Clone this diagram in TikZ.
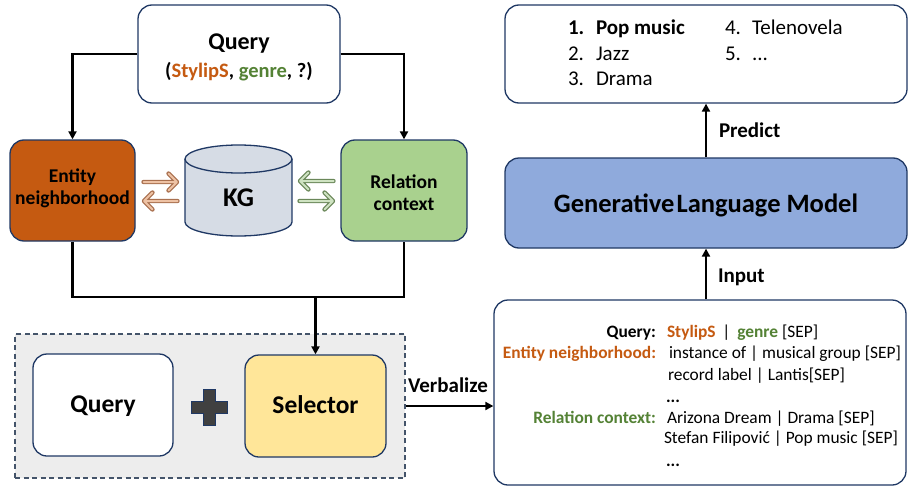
\documentclass[tikz,border=0pt]{standalone}
\usepackage{fontspec}
\setmainfont{Carlito}
\usetikzlibrary{arrows.meta}
\definecolor{navy}{HTML}{1F3864}
\definecolor{orfill}{HTML}{C55A11}
\definecolor{grfill}{HTML}{A9D18E}
\definecolor{kgfill}{HTML}{D6DCE5}
\definecolor{dboxfill}{HTML}{EDEDED}
\definecolor{dboxline}{HTML}{44546A}
\definecolor{yelfill}{HTML}{FFE699}
\definecolor{glmfill}{HTML}{8FAADC}
\definecolor{ortxt}{HTML}{C55A11}
\definecolor{grtxt}{HTML}{548235}
\definecolor{orarrline}{HTML}{A9704F}
\definecolor{orarrfill}{HTML}{EEC2A4}
\definecolor{grarrline}{HTML}{6A8759}
\definecolor{grarrfill}{HTML}{CFE3C2}
\definecolor{plusfill}{HTML}{404040}
\newcommand{\fs}[1]{\fontsize{#1}{#1}\selectfont}
\begin{document}
\begin{tikzpicture}[x=1pt,y=-1pt,
  box/.style={draw=navy, line width=1.3pt, rounded corners=14pt, inner sep=0pt},
  arr/.style={line width=2.2pt, -{Triangle[length=8pt,width=8pt]}},
  conn/.style={line width=2.2pt},
  txt/.style={inner sep=0pt, outer sep=0pt},
  pics/harrow/.style 2 args={code={
    \draw[line width=4.4pt, #1, line cap=round, line join=round] (-17,0) -- (16,0) (8,-8.5) -- (16.5,0) -- (8,8.5);
    \draw[line width=2.0pt, #2, line cap=round, line join=round] (-17,0) -- (16,0) (8,-8.5) -- (16.5,0) -- (8,8.5);
  }},
]
\useasboundingbox (0,0) rectangle (909,487);

% ---------- left part ----------
\node[box, fill=white, minimum width=202pt, minimum height=98pt] (qtop) at (239,54) {};
\node[txt, anchor=base] (qtopA) at (239,49) {\fs{24}\bfseries Query};
\node[txt, anchor=base] (qtopB) at (239,77) {\fs{20.5}\bfseries (\textcolor{ortxt}{StylipS}, \textcolor{grtxt}{genre}, ?)};

\node[box, fill=orfill, minimum width=125pt, minimum height=101pt] (ent) at (72.5,190.5) {};
\node[txt, align=center, font=\fs{19.5}\bfseries] (entT) at (72.5,188) {Entity\\[2.5pt]neighborhood};

\node[box, fill=grfill, minimum width=126pt, minimum height=101pt] (rel) at (404,190.5) {};
\node[txt, align=center, font=\fs{19.5}\bfseries] (relT) at (404,193) {Relation\\[2.5pt]context};

% KG cylinder
\fill[kgfill] (238.5,222) ellipse [x radius=53.5, y radius=14];
\fill[kgfill] (185,159) rectangle (292,222);
\draw[navy, line width=1.3pt] (185,159) -- (185,222) arc[start angle=180, end angle=0, x radius=53.5, y radius=14] -- (292,159);
\filldraw[fill=kgfill, draw=navy, line width=1.3pt] (238.5,159) ellipse [x radius=53.5, y radius=14];
\node[txt, font=\fs{27}\bfseries] (kg) at (238.5,198) {KG};

% hollow double arrows
\pic at (160.5,182) {harrow={orarrline}{orarrfill}};
\pic[rotate=180] at (160.5,201) {harrow={orarrline}{orarrfill}};
\pic[rotate=180] at (316.5,181) {harrow={grarrline}{grarrfill}};
\pic at (316.5,201) {harrow={grarrline}{grarrfill}};

% connectors from query
\draw[arr] (qtop.west) -| (ent.north);
\draw[arr] (qtop.east) -| (rel.north);

% dashed box
\node[draw=dboxline, fill=dboxfill, dash pattern=on 5pt off 3.5pt, line width=1.3pt, minimum width=390pt, minimum height=144pt, inner sep=0pt] (dbox) at (210,406) {};
\node[box, fill=white, minimum width=140pt, minimum height=102pt] (qbot) at (103,405) {};
\node[txt, anchor=base, font=\fs{25.5}\bfseries] (qbotT) at (103,412) {Query};
\node[box, fill=yelfill, minimum width=141pt, minimum height=102pt] (sel) at (315.5,406) {};
\node[txt, anchor=base, font=\fs{25.5}\bfseries] (selT) at (315.5,413) {Selector};
% plus
\filldraw[fill=plusfill, draw=navy, line width=0.8pt]
  (203,389) -- (215,389) -- (215,401) -- (227,401) -- (227,413) -- (215,413) -- (215,425) -- (203,425) -- (203,413) -- (191,413) -- (191,401) -- (203,401) -- cycle;

% merge connector
\coordinate (merge) at (315.5,297);
\draw[conn] (ent.south) |- (merge) -| (rel.south);
\draw[arr] (merge) -- (sel.north);

% ---------- right part ----------
\node[box, fill=white, minimum width=412pt, minimum height=185pt] (rbox) at (700,392.5) {};
\node[box, fill=white, minimum width=402pt, minimum height=98pt] (res) at (706,54) {};
\node[box, fill=glmfill, minimum width=402pt, minimum height=90pt] (glm) at (706,203) {};
\node[txt, anchor=base, font=\fs{26.5}\bfseries] (glmT) at (706,212) {Generative\hspace{0.08em}Language Model};

% verbalize
\draw[arr] (dbox.east) -- (rbox.west |- dbox.east);
\node[txt, anchor=base west, font=\fs{21}\bfseries] (verb) at (408,392) {Verbalize};

% predict / input
\draw[arr] (glm.north) -- (res.south);
\node[txt, anchor=base west, font=\fs{21}\bfseries] (pred) at (719,137) {Predict};
\draw[arr] (rbox.north -| glm.south) -- (glm.south);
\node[txt, anchor=base west, font=\fs{21}\bfseries] (inp) at (718,282) {Input};

% result list
\begin{scope}[every node/.style={txt, anchor=base west, font=\fs{21}}]
\node (n1) at (568,35) {\bfseries 1.};
\node (t1) at (596,35) {\bfseries Pop music};
\node (n2) at (568,60) {2.};
\node (t2) at (596,60) {Jazz};
\node (n3) at (568,85) {3.};
\node (t3) at (596,85) {Drama};
\node (n4) at (725,35) {4.};
\node (t4) at (752,35) {Telenovela};
\node (n5) at (725,60) {5.};
\node (t5) at (752,60) {...};
\end{scope}

% verbalized text
\begin{scope}[every node/.style={txt, font=\fs{17.4}}]
\node[anchor=base east] (l1) at (656,337) {\bfseries Query:};
\node[anchor=base west] (v1) at (667,337) {\textcolor{ortxt}{\bfseries StylipS} \,|\, \textcolor{grtxt}{\bfseries genre} [SEP]};
\node[anchor=base east] (l2) at (656,358) {\bfseries\color{ortxt} Entity neighborhood:};
\node[anchor=base west] (v2) at (669,358) {instance of | musical group [SEP]};
\node[anchor=base west] (v3) at (668,380) {record label | Lantis[SEP]};
\node[anchor=base west] (v4) at (666,402) {\bfseries ...};
\node[anchor=base east] (l5) at (656,423) {\bfseries\color{grtxt} Relation context:};
\node[anchor=base west] (v5) at (667,423) {Arizona Dream | Drama [SEP]};
\node[anchor=base west] (v6) at (664,443) {Stefan Filipović | Pop music [SEP]};
\node[anchor=base west] (v7) at (666,466) {\bfseries ...};
\end{scope}
\end{tikzpicture}
\end{document}
